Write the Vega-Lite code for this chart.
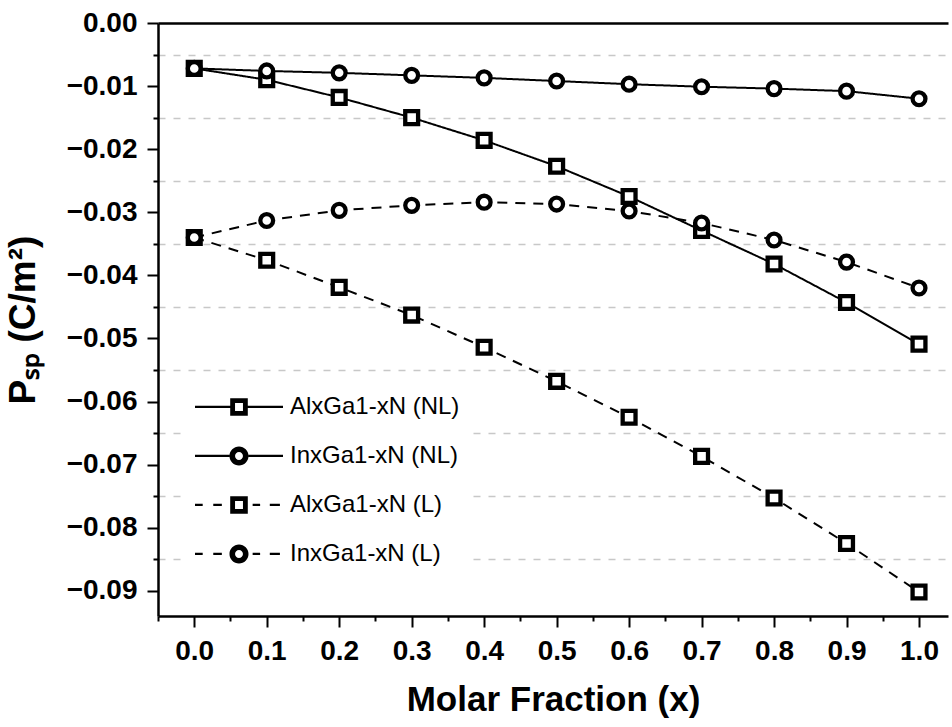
{
  "$schema": "https://vega.github.io/schema/vega-lite/v6.json",
  "width": 790,
  "height": 593,
  "autosize": {"type": "none"},
  "padding": {"left": 158, "top": 23, "right": 4, "bottom": 111},
  "background": "white",
  "config": {
    "view": {"stroke": null},
    "axis": {"domainColor": "black", "tickColor": "black", "labelColor": "black", "titleColor": "black", "labelFont": "Liberation Sans", "titleFont": "Liberation Sans"}
  },
  "data": {
    "values": [
      {"x": 0.0, "p": -0.0072, "series": "AlxGa1-xN (NL)", "type": "NL"},
      {"x": 0.1, "p": -0.0090, "series": "AlxGa1-xN (NL)", "type": "NL"},
      {"x": 0.2, "p": -0.0118, "series": "AlxGa1-xN (NL)", "type": "NL"},
      {"x": 0.3, "p": -0.0150, "series": "AlxGa1-xN (NL)", "type": "NL"},
      {"x": 0.4, "p": -0.0186, "series": "AlxGa1-xN (NL)", "type": "NL"},
      {"x": 0.5, "p": -0.0227, "series": "AlxGa1-xN (NL)", "type": "NL"},
      {"x": 0.6, "p": -0.0275, "series": "AlxGa1-xN (NL)", "type": "NL"},
      {"x": 0.7, "p": -0.0329, "series": "AlxGa1-xN (NL)", "type": "NL"},
      {"x": 0.8, "p": -0.0382, "series": "AlxGa1-xN (NL)", "type": "NL"},
      {"x": 0.9, "p": -0.0443, "series": "AlxGa1-xN (NL)", "type": "NL"},
      {"x": 1.0, "p": -0.0509, "series": "AlxGa1-xN (NL)", "type": "NL"},
      {"x": 0.0, "p": -0.0072, "series": "InxGa1-xN (NL)", "type": "NL"},
      {"x": 0.1, "p": -0.0076, "series": "InxGa1-xN (NL)", "type": "NL"},
      {"x": 0.2, "p": -0.0079, "series": "InxGa1-xN (NL)", "type": "NL"},
      {"x": 0.3, "p": -0.0083, "series": "InxGa1-xN (NL)", "type": "NL"},
      {"x": 0.4, "p": -0.0087, "series": "InxGa1-xN (NL)", "type": "NL"},
      {"x": 0.5, "p": -0.0092, "series": "InxGa1-xN (NL)", "type": "NL"},
      {"x": 0.6, "p": -0.0097, "series": "InxGa1-xN (NL)", "type": "NL"},
      {"x": 0.7, "p": -0.0101, "series": "InxGa1-xN (NL)", "type": "NL"},
      {"x": 0.8, "p": -0.0104, "series": "InxGa1-xN (NL)", "type": "NL"},
      {"x": 0.9, "p": -0.0108, "series": "InxGa1-xN (NL)", "type": "NL"},
      {"x": 1.0, "p": -0.0120, "series": "InxGa1-xN (NL)", "type": "NL"},
      {"x": 0.0, "p": -0.0340, "series": "AlxGa1-xN (L)", "type": "L"},
      {"x": 0.1, "p": -0.0376, "series": "AlxGa1-xN (L)", "type": "L"},
      {"x": 0.2, "p": -0.0419, "series": "AlxGa1-xN (L)", "type": "L"},
      {"x": 0.3, "p": -0.0463, "series": "AlxGa1-xN (L)", "type": "L"},
      {"x": 0.4, "p": -0.0514, "series": "AlxGa1-xN (L)", "type": "L"},
      {"x": 0.5, "p": -0.0568, "series": "AlxGa1-xN (L)", "type": "L"},
      {"x": 0.6, "p": -0.0625, "series": "AlxGa1-xN (L)", "type": "L"},
      {"x": 0.7, "p": -0.0687, "series": "AlxGa1-xN (L)", "type": "L"},
      {"x": 0.8, "p": -0.0753, "series": "AlxGa1-xN (L)", "type": "L"},
      {"x": 0.9, "p": -0.0825, "series": "AlxGa1-xN (L)", "type": "L"},
      {"x": 1.0, "p": -0.0902, "series": "AlxGa1-xN (L)", "type": "L"},
      {"x": 0.0, "p": -0.0340, "series": "InxGa1-xN (L)", "type": "L"},
      {"x": 0.1, "p": -0.0313, "series": "InxGa1-xN (L)", "type": "L"},
      {"x": 0.2, "p": -0.0297, "series": "InxGa1-xN (L)", "type": "L"},
      {"x": 0.3, "p": -0.0289, "series": "InxGa1-xN (L)", "type": "L"},
      {"x": 0.4, "p": -0.0284, "series": "InxGa1-xN (L)", "type": "L"},
      {"x": 0.5, "p": -0.0287, "series": "InxGa1-xN (L)", "type": "L"},
      {"x": 0.6, "p": -0.0298, "series": "InxGa1-xN (L)", "type": "L"},
      {"x": 0.7, "p": -0.0317, "series": "InxGa1-xN (L)", "type": "L"},
      {"x": 0.8, "p": -0.0344, "series": "InxGa1-xN (L)", "type": "L"},
      {"x": 0.9, "p": -0.0379, "series": "InxGa1-xN (L)", "type": "L"},
      {"x": 1.0, "p": -0.0420, "series": "InxGa1-xN (L)", "type": "L"}
    ]
  },
  "layer": [
    {
      "mark": {"type": "point", "opacity": 0},
      "encoding": {
        "x": {"field": "x", "type": "quantitative", "scale": {"domain": [-0.05, 1.04], "nice": false, "zero": false},
          "axis": {"orient": "bottom", "values": [-0.05, 0.05, 0.15, 0.25, 0.35, 0.45, 0.55, 0.65, 0.75, 0.85, 0.95], "labels": false, "domain": false, "ticks": true, "tickSize": 5, "tickWidth": 2, "grid": false, "title": null}},
        "y": {"field": "p", "type": "quantitative", "scale": {"domain": [-0.094, 0], "nice": false, "zero": false},
          "axis": {"orient": "left", "values": [-0.085, -0.075, -0.065, -0.055, -0.045, -0.035, -0.025, -0.015, -0.005], "labels": false, "domain": false, "ticks": true, "tickSize": 5, "tickWidth": 2, "grid": true, "gridColor": "#c8c8c8", "gridDash": [7, 8], "gridWidth": 1.5, "title": null}}
      }
    },
    {
      "mark": {"type": "line", "strokeWidth": 2, "color": "black"},
      "encoding": {
        "x": {"field": "x", "type": "quantitative", "scale": {"domain": [-0.05, 1.04], "nice": false, "zero": false},
          "axis": {"orient": "bottom", "values": [0, 0.1, 0.2, 0.3, 0.4, 0.5, 0.6, 0.7, 0.8, 0.9, 1.0], "format": ".1f", "labelFontWeight": "bold", "labelFontSize": 28, "labelPadding": 10, "tickSize": 11, "tickWidth": 2, "domainWidth": 2.5, "grid": false, "title": "Molar Fraction (x)", "titleFontSize": 35, "titleFontWeight": "bold", "titlePadding": 17}},
        "y": {"field": "p", "type": "quantitative", "scale": {"domain": [-0.094, 0], "nice": false, "zero": false},
          "axis": {"orient": "left", "values": [-0.09, -0.08, -0.07, -0.06, -0.05, -0.04, -0.03, -0.02, -0.01, 0], "format": ".2f", "labelFontWeight": "bold", "labelFontSize": 28, "labelPadding": 10, "tickSize": 11, "tickWidth": 2, "domainWidth": 2.5, "grid": false, "title": "Pₛₚ (C/m²)", "titleFontSize": 37, "titleFontWeight": "bold", "titlePadding": 24}},
        "strokeDash": {"field": "type", "type": "nominal", "scale": {"domain": ["NL", "L"], "range": [[1, 0], [10, 8]]}, "legend": null},
        "detail": {"field": "series", "type": "nominal"}
      }
    },
    {
      "mark": {"type": "point", "filled": true, "fill": "white", "stroke": "black", "strokeWidth": 4.3, "size": 165, "opacity": 1},
      "encoding": {
        "x": {"field": "x", "type": "quantitative", "scale": {"domain": [-0.05, 1.04], "nice": false, "zero": false}, "axis": null},
        "y": {"field": "p", "type": "quantitative", "scale": {"domain": [-0.094, 0], "nice": false, "zero": false}, "axis": null},
        "shape": {"field": "series", "type": "nominal", "scale": {"domain": ["AlxGa1-xN (NL)", "InxGa1-xN (NL)", "AlxGa1-xN (L)", "InxGa1-xN (L)"], "range": ["square", "circle", "square", "circle"]}, "legend": null}
      }
    },
    {
      "mark": {"type": "point", "filled": true, "color": "black", "opacity": 0},
      "encoding": {
        "x": {"field": "x", "type": "quantitative", "scale": {"domain": [-0.05, 1.04], "nice": false, "zero": false}, "axis": null},
        "y": {"field": "p", "type": "quantitative", "scale": {"domain": [-0.094, 0], "nice": false, "zero": false}, "axis": null},
        "shape": {"field": "series", "type": "nominal",
          "scale": {"domain": ["AlxGa1-xN (NL)", "InxGa1-xN (NL)", "AlxGa1-xN (L)", "InxGa1-xN (L)"],
            "range": [
              "M-1,-0.025H-0.2V0.025H-1Z M0.2,-0.025H1V0.025H0.2Z M-0.2,-0.2H0.2V0.2H-0.2Z M-0.09,-0.09V0.09H0.09V-0.09Z",
              "M-1,-0.025H-0.216V0.025H-1Z M0.216,-0.025H1V0.025H0.216Z M0,-0.216C0.119,-0.216 0.216,-0.119 0.216,0C0.216,0.119 0.119,0.216 0,0.216C-0.119,0.216 -0.216,0.119 -0.216,0C-0.216,-0.119 -0.119,-0.216 0,-0.216Z M0,-0.09C-0.05,-0.09 -0.09,-0.05 -0.09,0C-0.09,0.05 -0.05,0.09 0,0.09C0.05,0.09 0.09,0.05 0.09,0C0.09,-0.05 0.05,-0.09 0,-0.09Z",
              "M-1,-0.025H-0.825V0.025H-1Z M-0.585,-0.025H-0.39V0.025H-0.585Z M0.31,-0.025H0.48V0.025H0.31Z M0.7,-0.025H0.93V0.025H0.7Z M-0.2,-0.2H0.2V0.2H-0.2Z M-0.09,-0.09V0.09H0.09V-0.09Z",
              "M-1,-0.025H-0.825V0.025H-1Z M-0.585,-0.025H-0.39V0.025H-0.585Z M0.31,-0.025H0.48V0.025H0.31Z M0.7,-0.025H0.93V0.025H0.7Z M0,-0.216C0.119,-0.216 0.216,-0.119 0.216,0C0.216,0.119 0.119,0.216 0,0.216C-0.119,0.216 -0.216,0.119 -0.216,0C-0.216,-0.119 -0.119,-0.216 0,-0.216Z M0,-0.09C-0.05,-0.09 -0.09,-0.05 -0.09,0C-0.09,0.05 -0.05,0.09 0,0.09C0.05,0.09 0.09,0.05 0.09,0C0.09,-0.05 0.05,-0.09 0,-0.09Z"
            ]},
          "legend": {"orient": "none", "legendX": 27, "legendY": 349.6, "padding": 10, "fillColor": "white", "strokeColor": "transparent", "clipHeight": 48.7, "rowPadding": 0, "symbolSize": 7744, "symbolStrokeWidth": 0, "symbolFillColor": "black", "symbolOpacity": 1, "labelFont": "Liberation Sans", "labelFontSize": 24, "labelColor": "black", "labelOffset": 7, "labelLimit": 0, "title": null}
        }
      }
    },
    {
      "mark": {"type": "point", "opacity": 0},
      "encoding": {
        "x": {"field": "x", "type": "quantitative", "scale": {"domain": [-0.05, 1.04], "nice": false, "zero": false},
          "axis": {"orient": "top", "domain": true, "domainWidth": 2.5, "ticks": false, "labels": false, "grid": false, "title": null}},
        "y": {"field": "p", "type": "quantitative", "scale": {"domain": [-0.094, 0], "nice": false, "zero": false}, "axis": null}
      }
    }
  ],
  "resolve": {"scale": {"shape": "independent"}, "axis": {"x": "independent", "y": "independent"}}
}
